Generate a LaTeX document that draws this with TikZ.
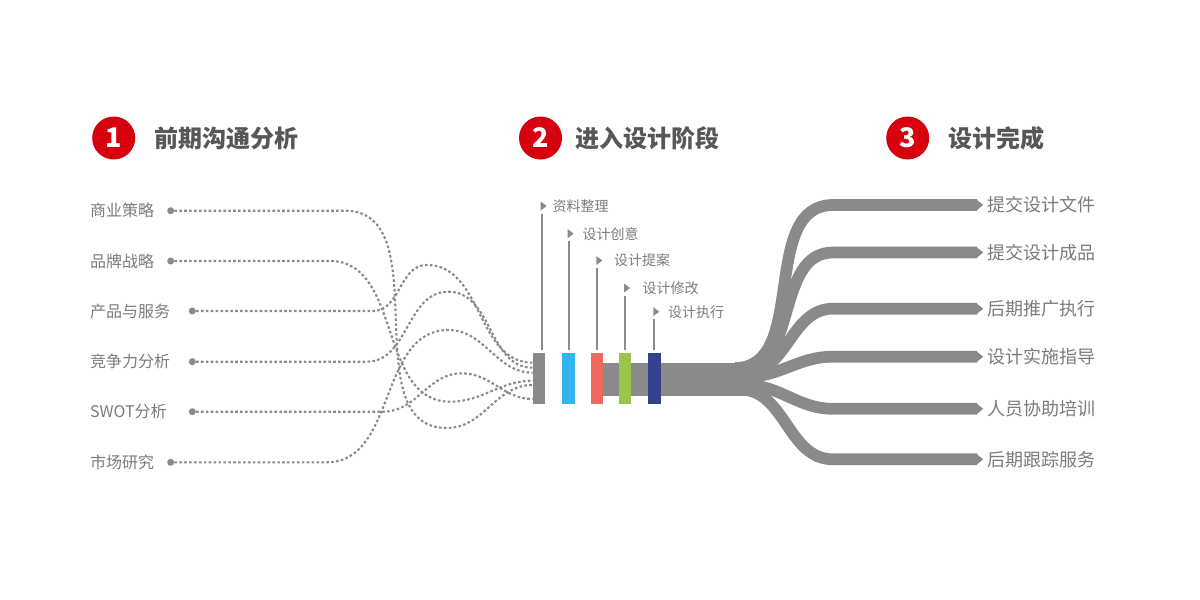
\documentclass[tikz,border=0pt]{standalone}
\usepackage{fontspec}
\setmainfont{Noto Sans CJK SC}
\usetikzlibrary{positioning,arrows.meta}
\definecolor{linegray}{HTML}{8A8A8A}
\definecolor{txtgray}{HTML}{7B7B7B}
\definecolor{titlegray}{HTML}{575757}
\definecolor{badgered}{HTML}{D7000F}
\definecolor{barblue}{HTML}{35B3EC}
\definecolor{barred}{HTML}{EE6A5E}
\definecolor{bargreen}{HTML}{9BC54A}
\definecolor{barnavy}{HTML}{33418E}

\begin{document}
\begin{tikzpicture}[x=1pt,y=-1pt,
        badge/.style={circle,fill=badgered,text=white,minimum size=43pt,inner sep=0pt,font=\fontsize{27pt}{27pt}\selectfont\bfseries},
        title/.style={text=titlegray,inner sep=0pt,font=\fontsize{24pt}{24pt}\selectfont\bfseries},
        item/.style={text=txtgray,inner sep=0pt,anchor=west,font=\fontsize{16pt}{16pt}\selectfont},
        dot/.style={circle,fill=linegray,minimum size=7pt,inner sep=0pt},
        wire/.style={linegray,line width=2.1pt,dash pattern=on 2.6pt off 2.3pt},
        stage/.style={text=txtgray,inner sep=0pt,anchor=west,font=\fontsize{14pt}{14pt}\selectfont},
        stem/.style={linegray,line width=2pt,shorten >=3pt},
        bar/.style={minimum width=12.3pt,minimum height=51pt,inner sep=0pt},
        result/.style={text=txtgray,inner sep=0pt,anchor=west,font=\fontsize{18pt}{18pt}\selectfont},
        branch/.style={linegray,line width=11.7pt,-{Triangle[length=6.6pt,width=10pt]},shorten >=4pt}]
        \useasboundingbox (0,0) rectangle (1200,600);

        % headers
        \node[badge] (c1) at (113.7,138) {1};
        \node[title] (t1) [right=19pt of c1] {前期沟通分析};
        \node[badge] (c2) at (540.5,138) {2};
        \node[title] (t2) [right=13pt of c2] {进入设计阶段};
        \node[badge] (c3) at (907.7,138) {3};
        \node[title] (t3) [right=19pt of c3] {设计完成};

        % left column
        \node[item] (i1) at (90,210.5) {商业策略};
        \node[item] (i2) at (90,261) {品牌战略};
        \node[item] (i3) at (90,311) {产品与服务};
        \node[item] (i4) at (90,361.5) {竞争力分析};
        \node[item] (i5) at (90,411.5) {SWOT分析};
        \node[item] (i6) at (90,462) {市场研究};
        \node[dot] (d1) at (170.7,210.7) {};
        \node[dot] (d2) at (170.7,261) {};
        \node[dot] (d3) at (192.3,311) {};
        \node[dot] (d4) at (192.3,361.7) {};
        \node[dot] (d5) at (192.3,411.7) {};
        \node[dot] (d6) at (170.7,462.3) {};
        \coordinate (e1) at (532.7,385);
        \coordinate (e2) at (532.7,380.7);
        \coordinate (e3) at (532.7,362.7);
        \coordinate (e4) at (532.7,367.7);
        \coordinate (e5) at (532.7,399);
        \coordinate (e6) at (532.7,372.7);

        \draw[wire] (d1) -- (345,210.7) to[out=0,in=180] (446.7,428) to[out=0,in=180] (e1);
        \draw[wire] (d2) -- (330,261) to[out=0,in=180] (450,401.7) to[out=0,in=180] (e2);
        \draw[wire] (d3) -- (373,311) to[out=0,in=180] (426.7,265) to[out=0,in=180] (e3);
        \draw[wire] (d4) -- (366.7,361.7) to[out=0,in=180] (448.3,291.7) to[out=0,in=180] (e4);
        \draw[wire] (d5) -- (383,411.7) to[out=0,in=180] (461.7,373.3) to[out=0,in=180] (e5);
        \draw[wire] (d6) -- (326.7,462.3) to[out=0,in=180] (448.3,330) to[out=0,in=180] (e6);

        % middle bars
        \node[bar,fill=linegray] (bar1) at (539,378.8) {};
        \node[bar,fill=barblue] (bar2) at (568.5,378.8) {};
        \coordinate (trunk) at (745,379.5);
        \draw[linegray,line width=33.5pt] (597.2,379.5) -- (trunk);
        \node[bar,fill=barred] (bar3) at (597.2,378.8) {};
        \node[bar,fill=bargreen] (bar4) at (625,378.8) {};
        \node[bar,fill=barnavy] (bar5) at (654.5,378.8) {};

        \coordinate (m1) at (541.7,206);
        \coordinate (m2) at (568.7,233.7);
        \coordinate (m3) at (597.3,260.5);
        \coordinate (m4) at (625,288);
        \coordinate (m5) at (654.3,311.7);
        \fill[linegray] (m1) ++(-1,-4.5) -- ++(6,4.5) -- ++(-6,4.5) -- cycle;
        \fill[linegray] (m2) ++(-1,-4.5) -- ++(6,4.5) -- ++(-6,4.5) -- cycle;
        \fill[linegray] (m3) ++(-1,-4.5) -- ++(6,4.5) -- ++(-6,4.5) -- cycle;
        \fill[linegray] (m4) ++(-1,-4.5) -- ++(6,4.5) -- ++(-6,4.5) -- cycle;
        \fill[linegray] (m5) ++(-1,-4.5) -- ++(6,4.5) -- ++(-6,4.5) -- cycle;
        \draw[stem] ([yshift=-7.5pt]m1) -- (m1 |- bar1.north);
        \draw[stem] ([yshift=-7.5pt]m2) -- (m2 |- bar2.north);
        \draw[stem] ([yshift=-7.5pt]m3) -- (m3 |- bar3.north);
        \draw[stem] ([yshift=-7.5pt]m4) -- (m4 |- bar4.north);
        \draw[stem] ([yshift=-7.5pt]m5) -- (m5 |- bar5.north);
        \node[stage] (p1) at (552.5,206) {资料整理};
        \node[stage] (p2) at (582.5,233.7) {设计创意};
        \node[stage] (p3) at (614,260.5) {设计提案};
        \node[stage] (p4) at (642.5,288) {设计修改};
        \node[stage] (p5) at (668,311.7) {设计执行};

        % right fan
        \node[result] (r1) at (987.3,205) {提交设计文件};
        \node[result] (r2) at (987.3,252.5) {提交设计成品};
        \node[result] (r3) at (987.3,308.7) {后期推广执行};
        \node[result] (r4) at (987.3,356.7) {设计实施指导};
        \node[result] (r5) at (987.3,408.8) {人员协助培训};
        \node[result] (r6) at (987.3,459.3) {后期跟踪服务};
        \coordinate (f1) at (735,368);
        \coordinate (f2) at (740,370.5);
        \coordinate (f3) at (745,373);
        \coordinate (f4) at (745,377);
        \coordinate (f5) at (745,385);
        \coordinate (f6) at (740,389.5);
        \draw[branch] (f1) to[out=0,in=180] (833,205) -- (r1);
        \draw[branch] (f2) to[out=0,in=180] (833,252.5) -- (r2);
        \draw[branch] (f3) to[out=0,in=180] (833,308.7) -- (r3);
        \draw[branch] (f4) to[out=0,in=180] (833,356.7) -- (r4);
        \draw[branch] (f5) to[out=0,in=180] (833,408.8) -- (r5);
        \draw[branch] (f6) to[out=0,in=180] (833,459.3) -- (r6);
    \end{tikzpicture}
\end{document}
